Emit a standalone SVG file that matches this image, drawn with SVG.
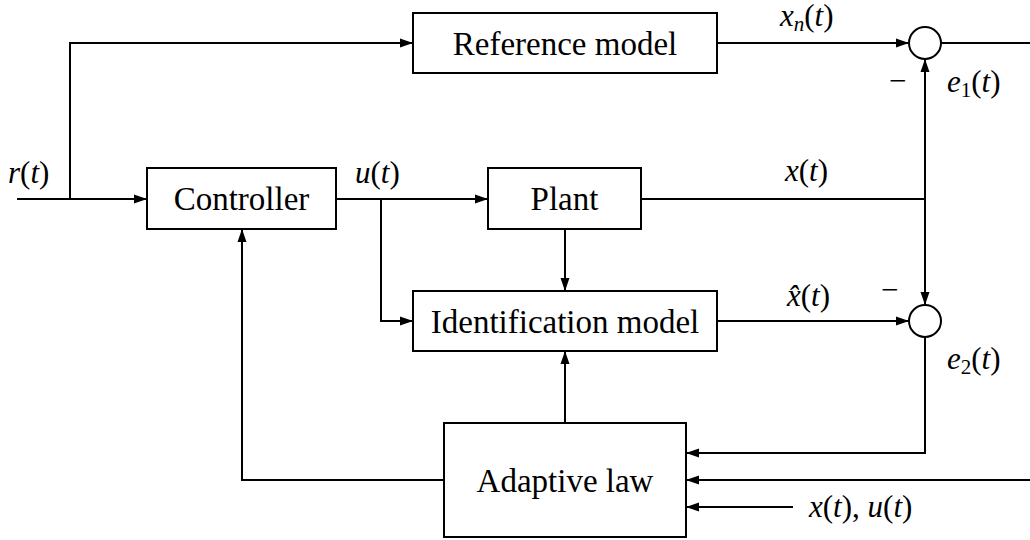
<svg xmlns="http://www.w3.org/2000/svg" width="1030" height="540" viewBox="0 0 1030 540">
<style>
.box{fill:#fff;stroke:#000;stroke-width:2}
.ln{fill:none;stroke:#000;stroke-width:2}
.arr{marker-end:url(#ah)}
.t{font-size:33px;fill:#000}
.lbl{font-size:31px}
.it{font-style:italic}
.sub{font-size:21px}
</style>
<defs>
<marker id="ah" markerUnits="userSpaceOnUse" markerWidth="14" markerHeight="10" refX="13" refY="5" orient="auto">
<path d="M0,0.5 L13,5 L0,9.5 z" fill="#000"/>
</marker>
</defs>
<rect width="1030" height="540" fill="#fff"/>
<g id="connectors">
<path class="ln arr" d="M17,199 H147"/>
<path class="ln arr" d="M70,199 V43 H413"/>
<path class="ln arr" d="M717,43 H909"/>
<path class="ln" d="M941,43 H1030"/>
<path class="ln arr" d="M336,199 H488"/>
<path class="ln arr" d="M381,199 V321 H413"/>
<path class="ln" d="M641,199 H925"/>
<path class="ln arr" d="M925,199 V59"/>
<path class="ln arr" d="M925,199 V305"/>
<path class="ln arr" d="M565,229 V291"/>
<path class="ln arr" d="M717,321 H909"/>
<path class="ln arr" d="M565,423 V351"/>
<path class="ln arr" d="M925,337 V453 H686"/>
<path class="ln arr" d="M1030,480 H686"/>
<path class="ln arr" d="M793,507 H686"/>
<path class="ln arr" d="M444,480 H242 V229"/>
</g>
<g font-family="Liberation Serif, Times New Roman, DejaVu Serif, serif">
<g id="ref-model"><rect class="box" x="413" y="13" width="304" height="60"/><text class="t" x="565" y="55" text-anchor="middle">Reference model</text></g>
<g id="controller"><rect class="box" x="147" y="168" width="189" height="61"/><text class="t" x="241.5" y="210" text-anchor="middle">Controller</text></g>
<g id="plant"><rect class="box" x="488" y="168" width="153" height="61"/><text class="t" x="564.5" y="210" text-anchor="middle">Plant</text></g>
<g id="id-model"><rect class="box" x="413" y="291" width="304" height="60"/><text class="t" x="565" y="333" text-anchor="middle">Identification model</text></g>
<g id="adaptive-law"><rect class="box" x="444" y="423" width="242" height="114"/><text class="t" x="565" y="492" text-anchor="middle">Adaptive law</text></g>
<g id="sum1"><circle class="box" cx="925" cy="43" r="16"/></g>
<g id="sum2"><circle class="box" cx="925" cy="321" r="16"/></g>
<g id="labels">
<text class="t lbl" x="8" y="183"><tspan class="it">r</tspan>(<tspan class="it">t</tspan>)</text>
<text class="t lbl" x="355" y="183"><tspan class="it">u</tspan>(<tspan class="it">t</tspan>)</text>
<text class="t lbl" x="780" y="26"><tspan class="it">x</tspan><tspan class="it sub" dy="5">n</tspan><tspan dy="-5">(</tspan><tspan class="it">t</tspan>)</text>
<text class="t lbl" x="785" y="181"><tspan class="it">x</tspan>(<tspan class="it">t</tspan>)</text>
<text class="t lbl" x="787" y="306"><tspan class="it">x̂</tspan>(<tspan class="it">t</tspan>)</text>
<text class="t lbl" x="947" y="92"><tspan class="it">e</tspan><tspan class="sub" dy="5">1</tspan><tspan dy="-5">(</tspan><tspan class="it">t</tspan>)</text>
<text class="t lbl" x="947" y="369"><tspan class="it">e</tspan><tspan class="sub" dy="5">2</tspan><tspan dy="-5">(</tspan><tspan class="it">t</tspan>)</text>
<text class="t lbl" x="889" y="91">−</text>
<text class="t lbl" x="881" y="300">−</text>
<text class="t lbl" x="809" y="517"><tspan class="it">x</tspan>(<tspan class="it">t</tspan>), <tspan class="it">u</tspan>(<tspan class="it">t</tspan>)</text>
</g>
</g>
</svg>
